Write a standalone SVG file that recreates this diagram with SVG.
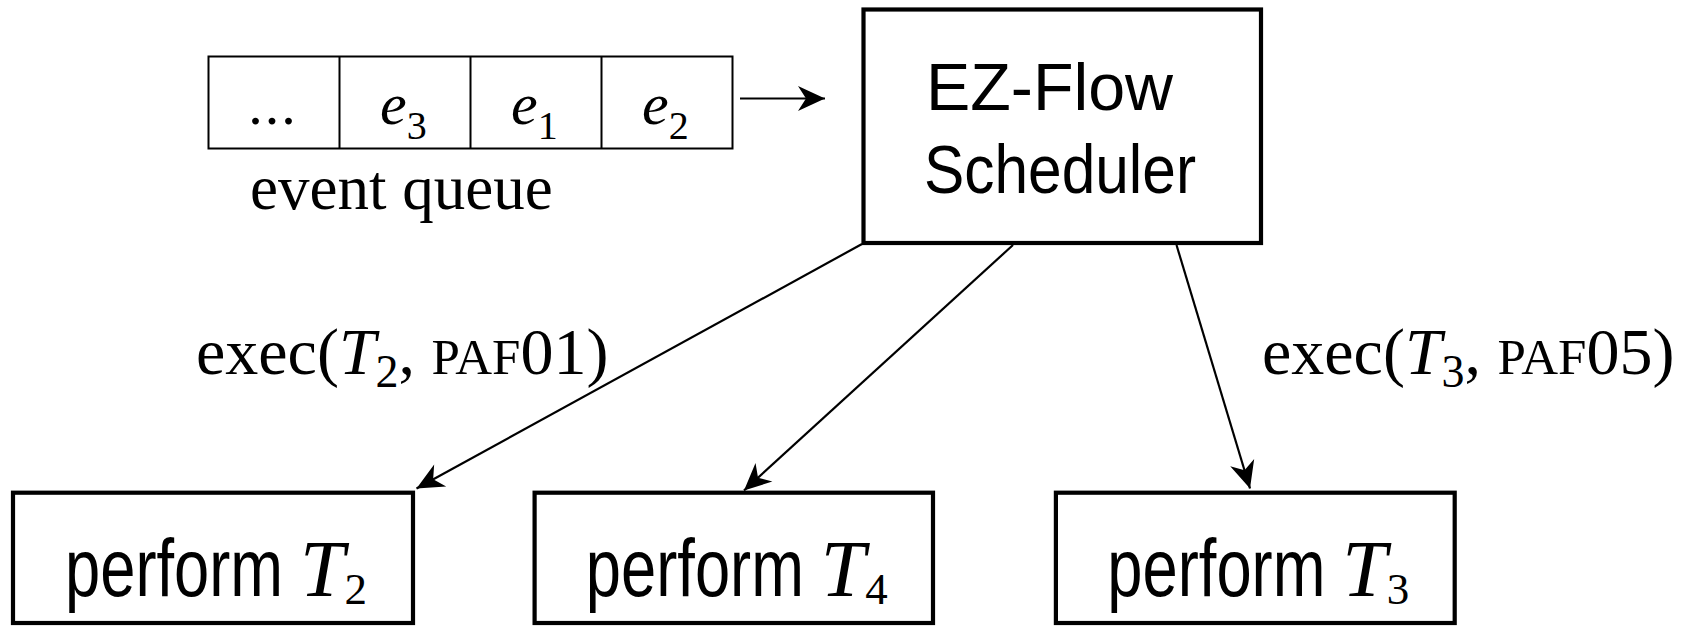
<svg xmlns="http://www.w3.org/2000/svg" width="1683" height="626" viewBox="0 0 1683 626">
  <defs>
    <style>
      .serif { font-family: "Liberation Serif", "Times New Roman", serif; fill: #000; }
      .sans { font-family: "Liberation Sans", Arial, sans-serif; fill: #000; }
      .it { font-style: italic; }
      .box { fill: #fff; stroke: #000; stroke-width: 4.2; }
      .cell { fill: none; stroke: #000; stroke-width: 2; }
      .edge { fill: none; stroke: #000; stroke-width: 2.2; marker-end: url(#arrow); }
    </style>
    <marker id="arrow" markerUnits="userSpaceOnUse" markerWidth="30" markerHeight="28"
            viewBox="-28 -14 30 28" refX="0" refY="0" orient="auto">
      <path d="M0,0 L-27,-12.5 L-19,0 L-27,12.5 Z" fill="#000"/>
    </marker>
  </defs>

  <rect width="1683" height="626" fill="#fff"/>

  <!-- event queue: four cells -->
  <g id="event-queue">
    <rect class="cell" x="208.5" y="56.5" width="524" height="92"/>
    <path class="cell" d="M339.5,56.5V148.5M470.5,56.5V148.5M601.5,56.5V148.5"/>
    <text class="serif" x="273" y="124" font-size="58" text-anchor="middle" letter-spacing="2">...</text>
    <text class="serif" x="380" y="124" font-size="60"><tspan class="it">e</tspan><tspan font-size="40" dy="15">3</tspan></text>
    <text class="serif" x="511" y="124" font-size="60"><tspan class="it">e</tspan><tspan font-size="40" dy="15">1</tspan></text>
    <text class="serif" x="642" y="124" font-size="60"><tspan class="it">e</tspan><tspan font-size="40" dy="15">2</tspan></text>
    <text class="serif" x="250" y="209" font-size="63">event queue</text>
  </g>

  <!-- scheduler -->
  <g id="scheduler">
    <rect class="box" x="863.5" y="9.5" width="397.5" height="233.5"/>
    <text class="sans" x="926" y="110" font-size="66" textLength="247" lengthAdjust="spacingAndGlyphs">EZ-Flow</text>
    <text class="sans" x="924" y="193" font-size="69" textLength="272" lengthAdjust="spacingAndGlyphs">Scheduler</text>
  </g>

  <!-- task boxes; the sans label is narrowed horizontally -->
  <g id="perform-t2" transform="translate(213,0)">
    <rect class="box" x="-200" y="492.7" width="400" height="130.3"/>
    <text class="sans" transform="translate(-148,596) scale(0.772,1)" font-size="82">perform</text>
    <text class="serif" x="87" y="596" font-size="80"><tspan class="it">T</tspan><tspan font-size="45" dy="8">2</tspan></text>
  </g>
  <g id="perform-t4" transform="translate(733.8,0)">
    <rect class="box" x="-199.2" y="492.7" width="398.4" height="130.3"/>
    <text class="sans" transform="translate(-148,596) scale(0.772,1)" font-size="82">perform</text>
    <text class="serif" x="87" y="596" font-size="80"><tspan class="it">T</tspan><tspan font-size="45" dy="8">4</tspan></text>
  </g>
  <g id="perform-t3" transform="translate(1255.3,0)">
    <rect class="box" x="-199.4" y="492.7" width="398.8" height="130.3"/>
    <text class="sans" transform="translate(-148,596) scale(0.772,1)" font-size="82">perform</text>
    <text class="serif" x="87" y="596" font-size="80"><tspan class="it">T</tspan><tspan font-size="45" dy="8">3</tspan></text>
  </g>

  <!-- connectors and their labels -->
  <g id="connectors">
    <path class="edge" d="M740,98.5 L825,98.5"/>
    <path class="edge" d="M862,244 L416.5,488.5"/>
    <path class="edge" d="M1013,245 L744,490.5"/>
    <path class="edge" d="M1176.5,245 L1250,488.5"/>
    <text class="serif" x="196" y="374" font-size="66">exec(<tspan class="it">T</tspan><tspan font-size="46" dy="13">2</tspan><tspan dy="-13">, </tspan><tspan font-size="51">PAF</tspan>01)</text>
    <text class="serif" x="1262" y="374" font-size="66">exec(<tspan class="it">T</tspan><tspan font-size="46" dy="13">3</tspan><tspan dy="-13">, </tspan><tspan font-size="51">PAF</tspan>05)</text>
  </g>
</svg>
